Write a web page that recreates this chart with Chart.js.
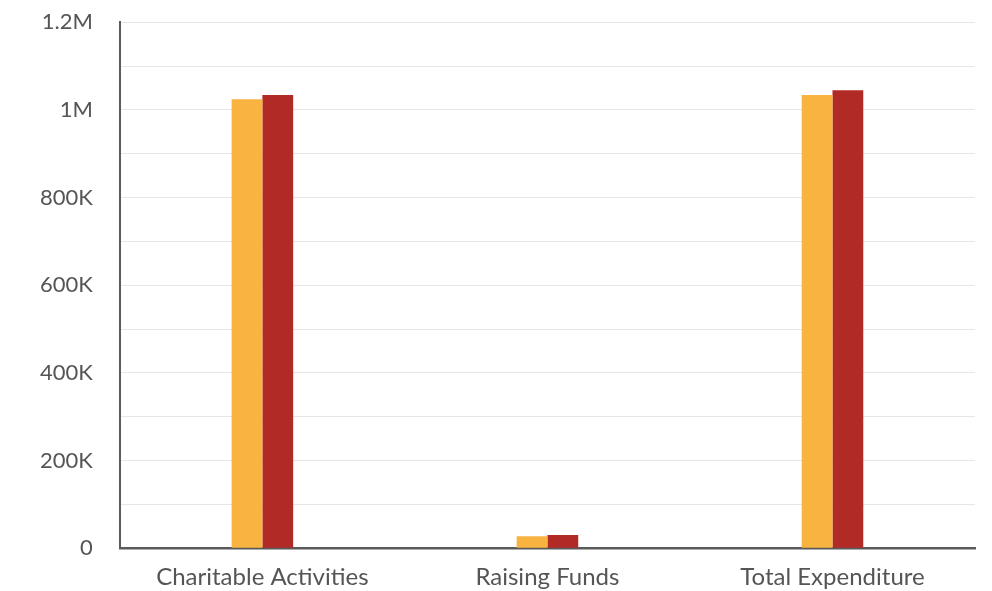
<!DOCTYPE html>
<html>
<head>
<meta charset="utf-8">
<script src="https://cdn.jsdelivr.net/npm/chart.js@4/dist/chart.umd.min.js"></script>
<style>
html,body{margin:0;padding:0;background:#fff;overflow:hidden;}
#wrap{width:992px;height:627px;position:relative;top:-18px;}
</style>
</head>
<body>
<div id="wrap"><canvas id="c"></canvas></div>
<script>
const categories = ["Charitable Activities", "Raising Funds", "Total Expenditure"];
const seriesA = [1024000, 27000, 1034000];
const seriesB = [1034000, 30000, 1045000];
const yTickLabels = {0: "0", 200000: "200K", 400000: "400K", 600000: "600K", 800000: "800K", 1000000: "1M", 1200000: "1.2M"};

Chart.defaults.font.family = "Lato, 'Open Sans', sans-serif";
new Chart(document.getElementById('c'), {
  type: 'bar',
  data: {
    labels: categories,
    datasets: [
      {label: 'Year 1', data: seriesA, backgroundColor: '#F8B340', borderWidth: 0, categoryPercentage: 0.216, barPercentage: 1.0},
      {label: 'Year 2', data: seriesB, backgroundColor: '#B22A26', borderWidth: 0, categoryPercentage: 0.216, barPercentage: 1.0}
    ]
  },
  options: {
    responsive: true,
    maintainAspectRatio: false,
    animation: false,
    layout: {padding: {top: 0, right: 17, left: 13, bottom: 2}},
    plugins: {legend: {display: false}, tooltip: {enabled: false}},
    scales: {
      x: {
        grid: {display: false, drawTicks: false},
        border: {display: true, color: '#5a5a5a', width: 2.5},
        ticks: {color: '#555', font: {size: 24}, padding: 15}
      },
      y: {
        min: 0, max: 1200000,
        grid: {color: '#e6e6e6', drawTicks: false, lineWidth: 1},
        border: {display: true, color: '#5a5a5a', width: 2},
        ticks: {
          stepSize: 100000,
          color: '#555',
          font: {size: 22},
          padding: 27,
          autoSkip: false,
          callback: v => (yTickLabels[v] !== undefined ? yTickLabels[v] : '')
        }
      }
    }
  }
});
</script>
</body>
</html>
